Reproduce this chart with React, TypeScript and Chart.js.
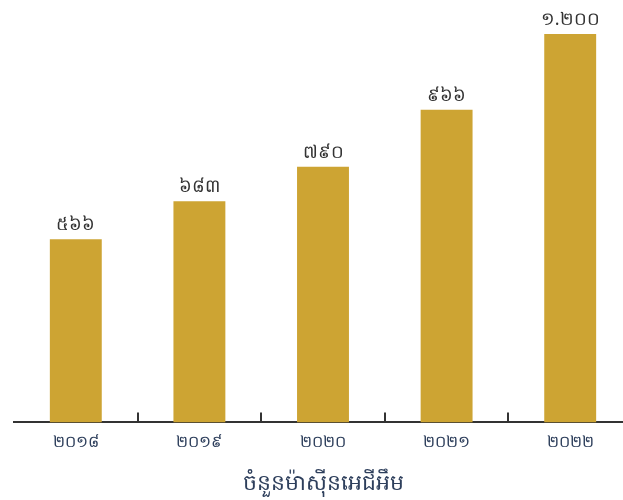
import React, { useEffect, useRef } from "react";
import { Chart, registerables } from "chart.js";

Chart.register(...registerables);

const categories = ["២០១៨", "២០១៩", "២០២០", "២០២១", "២០២២"];
const values = [566, 683, 790, 966, 1200];
const valueLabels = ["៥៦៦", "៦៨៣", "៧៩០", "៩៦៦", "១.២០០"];
const axisTitle = "ចំនួនម៉ាស៊ីនអេជីអឹម";

const FONT = "'Noto Sans', 'DejaVu Sans', sans-serif";

const valueLabelPlugin = {
  id: "valueLabels",
  afterDatasetsDraw(chart: any) {
    const ctx = chart.ctx;
    const meta = chart.getDatasetMeta(0);
    ctx.save();
    ctx.fillStyle = "#333333";
    ctx.font = `18px ${FONT}`;
    ctx.textAlign = "center";
    ctx.textBaseline = "bottom";
    meta.data.forEach((bar: any, i: number) => {
      ctx.fillText(valueLabels[i], bar.x, bar.y - 5);
    });
    ctx.restore();
  },
};

const innerTicksPlugin = {
  id: "innerTicks",
  afterDraw(chart: any) {
    const ctx = chart.ctx;
    const xs = chart.scales.x;
    const bottom = chart.chartArea.bottom;
    ctx.save();
    ctx.strokeStyle = "#333333";
    ctx.lineWidth = 2;
    for (let i = 0; i < categories.length - 1; i++) {
      const x = Math.round((xs.getPixelForValue(i) + xs.getPixelForValue(i + 1)) / 2);
      ctx.beginPath();
      ctx.moveTo(x, bottom - 10);
      ctx.lineTo(x, bottom);
      ctx.stroke();
    }
    ctx.restore();
  },
};

export default function App() {
  const ref = useRef<HTMLCanvasElement>(null);
  useEffect(() => {
    if (!ref.current) return;
    const chart = new Chart(ref.current, {
      type: "bar",
      data: {
        labels: categories,
        datasets: [
          {
            data: values,
            backgroundColor: "#CDA433",
            barPercentage: 0.42,
            categoryPercentage: 1,
          },
        ],
      },
      options: {
        animation: false,
        responsive: false,
        layout: { padding: { top: 21, left: 14, right: 8, bottom: 3 } },
        plugins: { legend: { display: false }, tooltip: { enabled: false } },
        scales: {
          y: { display: false, min: 0, max: 1240 },
          x: {
            grid: { display: false, drawTicks: false },
            border: { display: true, color: "#333333", width: 2 },
            ticks: { color: "#2E3F5C", font: { size: 16, family: FONT }, padding: 10 },
            title: {
              display: true,
              text: axisTitle,
              color: "#2E3F5C",
              font: { size: 22, family: FONT },
              padding: { top: 9, bottom: 0 },
            },
          },
        },
      },
      plugins: [valueLabelPlugin, innerTicksPlugin],
    });
    return () => chart.destroy();
  }, []);
  return (
    <div style={{ position: "fixed", left: 0, top: 0, width: 623, height: 500, overflow: "hidden", background: "#fff" }}>
      <canvas ref={ref} width={640} height={500} style={{ display: "block" }} />
    </div>
  );
}
